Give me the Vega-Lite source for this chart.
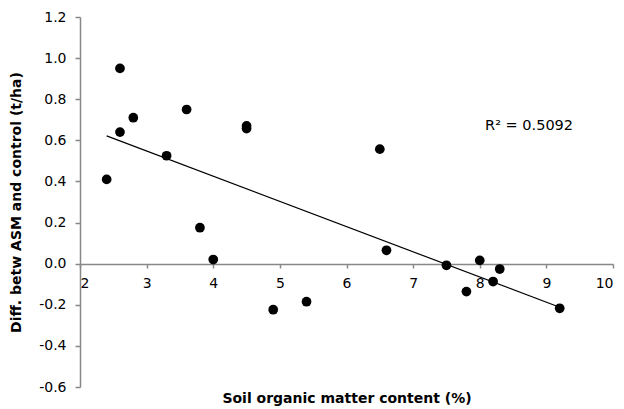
{
  "$schema": "https://vega.github.io/schema/vega-lite/v6.json",
  "width": 533,
  "height": 370,
  "autosize": "none",
  "padding": {"left": 80, "top": 17, "right": 11, "bottom": 22},
  "background": "white",
  "config": {
    "view": {"stroke": null},
    "font": "DejaVu Sans",
    "axis": {
      "grid": false,
      "domainColor": "#888888",
      "domainWidth": 1.5,
      "tickColor": "#888888",
      "tickWidth": 1.5,
      "labelColor": "#000000",
      "labelFontSize": 14,
      "labelFont": "DejaVu Sans",
      "titleFont": "DejaVu Sans",
      "titleFontSize": 14,
      "titleFontWeight": "bold",
      "titleColor": "#000000"
    }
  },
  "data": {
    "values": [
      {"som": 2.4, "diff": 0.41},
      {"som": 2.6, "diff": 0.95},
      {"som": 2.6, "diff": 0.64},
      {"som": 2.8, "diff": 0.71},
      {"som": 3.3, "diff": 0.525},
      {"som": 3.6, "diff": 0.75},
      {"som": 3.8, "diff": 0.175},
      {"som": 4.0, "diff": 0.02},
      {"som": 4.5, "diff": 0.67},
      {"som": 4.5, "diff": 0.657},
      {"som": 4.9, "diff": -0.224},
      {"som": 5.4, "diff": -0.185},
      {"som": 6.5, "diff": 0.557},
      {"som": 6.6, "diff": 0.065},
      {"som": 7.5, "diff": -0.008},
      {"som": 7.8, "diff": -0.136},
      {"som": 8.0, "diff": 0.016},
      {"som": 8.2, "diff": -0.087},
      {"som": 8.3, "diff": -0.026},
      {"som": 9.2, "diff": -0.217}
    ]
  },
  "layer": [
    {
      "transform": [{"regression": "diff", "on": "som", "extent": [2.4, 9.2]}],
      "mark": {"type": "line", "color": "#000000", "strokeWidth": 1.2},
      "encoding": {
        "x": {"field": "som", "type": "quantitative", "scale": {"domain": [2, 10], "nice": false, "zero": false}},
        "y": {"field": "diff", "type": "quantitative", "scale": {"domain": [-0.6, 1.2], "nice": false, "zero": false}}
      }
    },
    {
      "mark": {"type": "point", "filled": true, "color": "#000000", "opacity": 1, "size": 95},
      "encoding": {
        "x": {
          "field": "som", "type": "quantitative",
          "scale": {"domain": [2, 10], "nice": false, "zero": false},
          "axis": {
            "title": "Soil organic matter  content  (%)",
            "values": [2, 3, 4, 5, 6, 7, 8, 9, 10],
            "format": "d",
            "offset": -123,
            "tickSize": 4,
            "labelPadding": 8,
            "titleY": 127
          }
        },
        "y": {
          "field": "diff", "type": "quantitative",
          "scale": {"domain": [-0.6, 1.2], "nice": false, "zero": false},
          "axis": {
            "title": "Diff. betw  ASM and control (t/ha)",
            "values": [-0.6, -0.4, -0.2, 0, 0.2, 0.4, 0.6, 0.8, 1.0, 1.2],
            "labelExpr": "datum.value < -0.001 ? '-' + format(-datum.value, '.1f') : format(abs(datum.value), '.1f')",
            "tickSize": 5,
            "labelPadding": 9,
            "titleX": -57
          }
        }
      }
    },
    {
      "data": {"values": [{"label": "R² = 0.5092"}]},
      "mark": {"type": "text", "align": "left", "baseline": "middle", "fontSize": 14.5, "font": "DejaVu Sans", "color": "#000000"},
      "encoding": {
        "text": {"field": "label"},
        "x": {"datum": 8.08, "type": "quantitative"},
        "y": {"datum": 0.67, "type": "quantitative"}
      }
    }
  ]
}
